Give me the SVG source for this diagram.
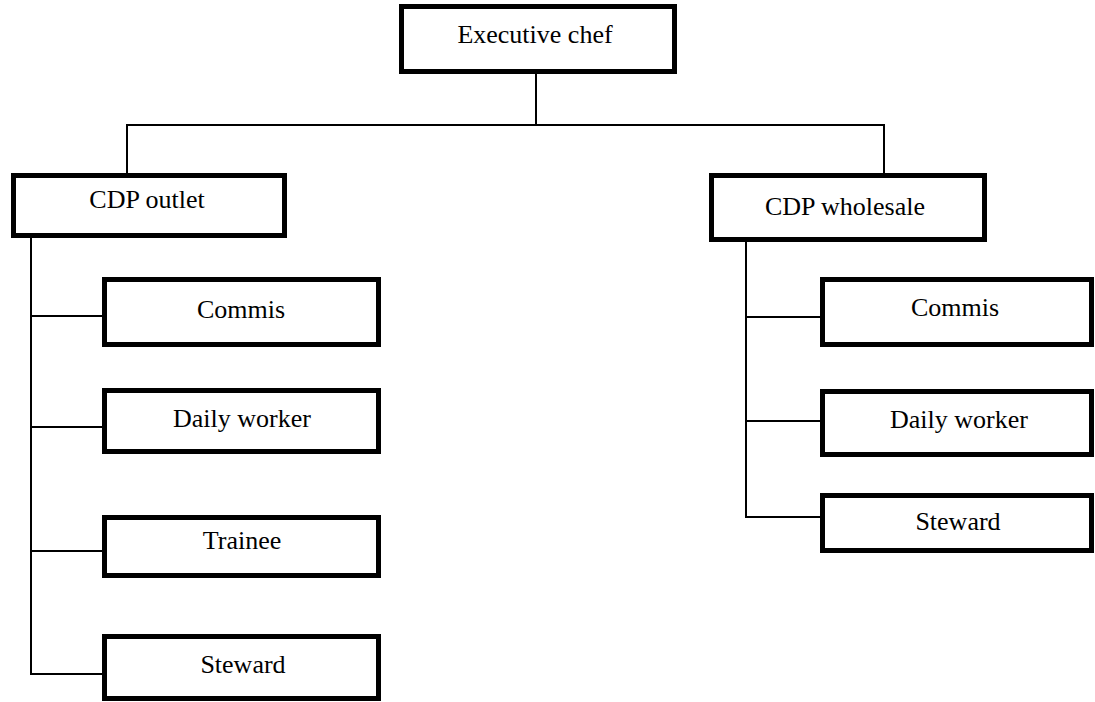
<svg xmlns="http://www.w3.org/2000/svg" width="1095" height="702" viewBox="0 0 1095 702">
<style>
.box{fill:#fff;stroke:#000;stroke-width:5}
.lbl{font-family:"Liberation Serif","Times New Roman",serif;font-size:26px;fill:#000;text-anchor:middle}
.conn line{stroke:#000;stroke-width:2;fill:none}
</style>
<rect width="1095" height="702" fill="#fff"/>
<g class="conn" id="connectors">
<line x1="536" y1="74" x2="536" y2="125"/>
<line x1="126" y1="125" x2="885" y2="125"/>
<line x1="127" y1="125" x2="127" y2="173"/>
<line x1="884" y1="125" x2="884" y2="173"/>
<line x1="31" y1="238" x2="31" y2="675"/>
<line x1="31" y1="316" x2="103" y2="316"/>
<line x1="31" y1="427" x2="103" y2="427"/>
<line x1="31" y1="551" x2="103" y2="551"/>
<line x1="30" y1="674" x2="103" y2="674"/>
<line x1="746" y1="242" x2="746" y2="518"/>
<line x1="746" y1="317" x2="821" y2="317"/>
<line x1="746" y1="421" x2="821" y2="421"/>
<line x1="745" y1="517" x2="821" y2="517"/>
</g>
<g id="exec"><rect class="box" x="401.5" y="6.5" width="273" height="65"/><text class="lbl" x="535" y="43">Executive chef</text></g>
<g id="cdp-outlet"><rect class="box" x="13.5" y="175.5" width="271" height="60"/><text class="lbl" x="147" y="208">CDP outlet</text></g>
<g id="cdp-wholesale"><rect class="box" x="711.5" y="175.5" width="273" height="64"/><text class="lbl" x="845" y="215">CDP wholesale</text></g>
<g id="l-commis"><rect class="box" x="104.5" y="279.5" width="274" height="65"/><text class="lbl" x="241" y="318">Commis</text></g>
<g id="l-daily"><rect class="box" x="104.5" y="390.5" width="274" height="61"/><text class="lbl" x="242" y="427">Daily worker</text></g>
<g id="l-trainee"><rect class="box" x="104.5" y="517.5" width="274" height="58"/><text class="lbl" x="242" y="549">Trainee</text></g>
<g id="l-steward"><rect class="box" x="104.5" y="636.5" width="274" height="62"/><text class="lbl" x="243" y="673">Steward</text></g>
<g id="r-commis"><rect class="box" x="822.5" y="279.5" width="269" height="65"/><text class="lbl" x="955" y="316">Commis</text></g>
<g id="r-daily"><rect class="box" x="822.5" y="391.5" width="269" height="63"/><text class="lbl" x="959" y="428">Daily worker</text></g>
<g id="r-steward"><rect class="box" x="822.5" y="495.5" width="269" height="55"/><text class="lbl" x="958" y="530">Steward</text></g>
</svg>
